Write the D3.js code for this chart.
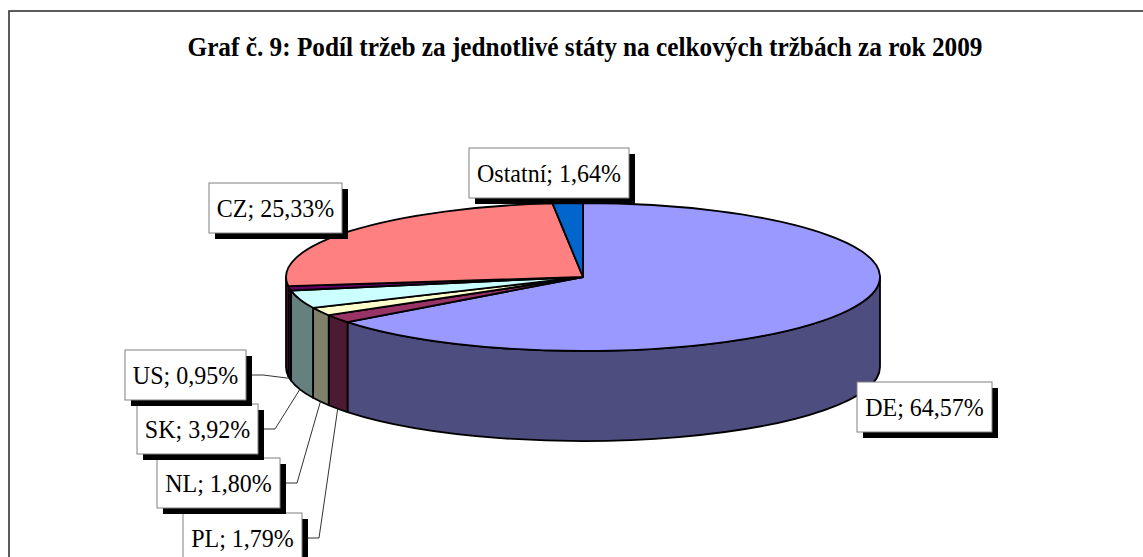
<!DOCTYPE html>
<html><head><meta charset="utf-8">
<script src="https://cdn.jsdelivr.net/npm/d3@7"></script>
<style>body{margin:0;background:#fff;overflow:hidden}</style>
</head><body>
<svg id="chart" width="1143" height="557"></svg>
<script>
// ---- data ----
const title = "Graf č. 9: Podíl tržeb za jednotlivé státy na celkových tržbách za rok 2009";
const categories = ["DE", "PL", "NL", "SK", "US", "CZ", "Ostatní"];
const values = [64.57, 1.79, 1.80, 3.92, 0.95, 25.33, 1.64];
const topColors = ["#9999FF", "#993366", "#FFFFCC", "#CCFFFF", "#660066", "#FF8080", "#0066CC"];
const sideColors = ["#4D4D80", "#4D1A33", "#80806A", "#668080", "#330033", "#804040", "#003366"];

// ---- layout (not data) ----
const labelLayout = [
  {x: 857, y: 382, leader: false},
  {x: 183, y: 513, leader: true},
  {x: 157, y: 458, leader: true},
  {x: 137, y: 404, leader: true},
  {x: 125, y: 350, leader: true},
  {x: 209, y: 183, leader: false},
  {x: 469, y: 148, leader: false}
];
const cx = 583, cy = 277, rx = 297, ry = 74, depth = 90;
const serif = "'Liberation Serif','Times New Roman',serif";

const svg = d3.select("#chart");
const fmt = v => d3.format(".2f")(v).replace(".", ",") + "%";

// frame
svg.append("rect").attr("x", 9).attr("y", 11).attr("width", 1300).attr("height", 700)
  .attr("fill", "#fff").attr("stroke", "#333").attr("stroke-width", 1.6);

// title
svg.append("text").attr("x", 585).attr("y", 56).attr("text-anchor", "middle")
  .attr("font-family", serif)
  .attr("font-weight", "bold").attr("font-size", 27)
  .attr("textLength", 795).attr("lengthAdjust", "spacingAndGlyphs")
  .text(title);

const pie = d3.pie().sort(null).value(d => d.v).startAngle(0).endAngle(2 * Math.PI);
const arcsData = pie(categories.map((c, i) => ({c, v: values[i], i})));

function pt(theta, dy) {
  return [cx + rx * Math.sin(theta), cy - ry * Math.cos(theta) + dy];
}
function sidePath(a0, a1) {
  const s = Math.max(a0, Math.PI / 2), e = Math.min(a1, 3 * Math.PI / 2);
  if (e <= s) return null;
  const p0 = pt(s, 0), p1 = pt(e, 0), p2 = pt(e, depth), p3 = pt(s, depth);
  const large = (e - s) > Math.PI ? 1 : 0;
  return `M${p0}A${rx},${ry} 0 ${large} 1 ${p1}L${p2}A${rx},${ry} 0 ${large} 0 ${p3}Z`;
}

// side walls
svg.append("g").selectAll("path")
  .data(arcsData.filter(d => sidePath(d.startAngle, d.endAngle)))
  .join("path")
  .attr("d", d => sidePath(d.startAngle, d.endAngle))
  .attr("fill", d => sideColors[d.data.i])
  .attr("stroke", "#000").attr("stroke-width", 1.8).attr("stroke-linejoin", "round");

// top faces
const arc = d3.arc().innerRadius(0).outerRadius(rx);
svg.append("g").attr("transform", `translate(${cx},${cy}) scale(1,${ry / rx})`)
  .selectAll("path").data(arcsData).join("path")
  .attr("d", arc)
  .attr("fill", d => topColors[d.data.i])
  .attr("stroke", "#000").attr("stroke-width", 1.8).attr("stroke-linejoin", "round")
  .attr("vector-effect", "non-scaling-stroke");

// labels
const lg = svg.append("g");
arcsData.forEach(d => {
  const L = labelLayout[d.data.i];
  const g = lg.append("g");
  const t = g.append("text")
    .attr("font-family", serif)
    .attr("font-size", 24).attr("fill", "#000")
    .attr("text-anchor", "middle")
    .text(d.data.c + "; " + fmt(d.data.v));
  const tw = t.node().getComputedTextLength();
  t.attr("font-size", 26).attr("textLength", tw).attr("lengthAdjust", "spacingAndGlyphs");
  const bw = Math.round(tw + 16), bh = 50;
  if (L.leader) {
    const mid = (d.startAngle + d.endAngle) / 2;
    const a = pt(mid, depth);
    const y0 = L.y + bh / 2;
    g.insert("polyline", "text")
      .attr("points", [[L.x + bw, y0], [L.x + bw + 17, y0], a].map(p => p.join(",")).join(" "))
      .attr("fill", "none").attr("stroke", "#333").attr("stroke-width", 1);
  }
  g.insert("rect", "text").attr("x", L.x + 6).attr("y", L.y + 6).attr("width", bw).attr("height", bh)
    .attr("fill", "#000");
  g.insert("rect", "text").attr("x", L.x).attr("y", L.y).attr("width", bw).attr("height", bh)
    .attr("fill", "#fff").attr("stroke", "#808080").attr("stroke-width", 1);
  t.attr("x", L.x + bw / 2).attr("y", L.y + bh / 2 + 9);
});
</script>
</body></html>
